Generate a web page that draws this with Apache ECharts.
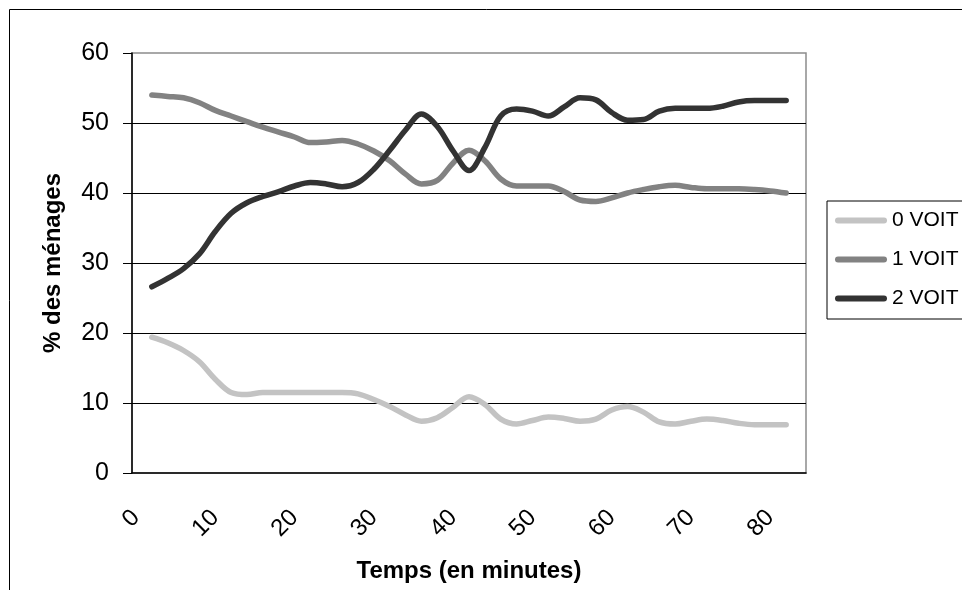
<!DOCTYPE html>
<html>
<head>
<meta charset="utf-8">
<script src="https://cdn.jsdelivr.net/npm/echarts@6/dist/echarts.min.js"></script>
<style>
  html, body { margin: 0; padding: 0; background: #fff; }
  #chart { width: 962px; height: 590px; }
</style>
</head>
<body>
<div id="chart"></div>
<script>
// Temps (minutes)
const minutes = [2,4,6,8,10,12,14,16,18,20,22,24,26,28,30,32,34,36,38,40,42,44,46,48,50,52,54,56,58,60,62,64,66,68,70,72,74,76,78,80,82];
// % des ménages par motorisation
const voit0 = [19.4,18.6,17.5,15.9,13.4,11.5,11.2,11.5,11.5,11.5,11.5,11.5,11.5,11.3,10.5,9.5,8.3,7.4,7.9,9.4,10.9,9.8,7.7,7.0,7.5,8.0,7.8,7.4,7.7,9.0,9.5,8.7,7.3,7.0,7.4,7.7,7.5,7.1,6.9,6.9,6.9];
const voit1 = [54.0,53.8,53.6,52.9,51.8,51.0,50.2,49.4,48.7,48.0,47.2,47.3,47.5,47.0,46.0,44.6,42.7,41.3,41.8,44.3,46.1,44.6,42.0,41.0,41.0,41.0,40.2,39.0,38.8,39.3,40.0,40.5,40.9,41.1,40.8,40.6,40.6,40.6,40.5,40.3,40.0];
const voit2 = [26.6,27.8,29.2,31.3,34.5,37.1,38.6,39.5,40.2,41.0,41.5,41.3,40.9,41.5,43.4,46.1,49.0,51.3,49.5,46.0,43.2,46.5,51.0,52.0,51.7,51.0,52.3,53.6,53.3,51.5,50.4,50.5,51.7,52.1,52.1,52.1,52.4,53.0,53.2,53.2,53.2];
const seriesNames = ['0 VOIT', '1 VOIT', '2 VOIT'];
const xTickLabels = [0,10,20,30,40,50,60,70,80];

const FONT = '"Liberation Sans", Arial, sans-serif';
const LEGEND_ICON = 'path://M3,0 L49,0 A3,3 0 0 1 49,6 L3,6 A3,3 0 0 1 3,0 Z';
const toPairs = vals => minutes.map((m, i) => [m, vals[i]]);

const chart = echarts.init(document.getElementById('chart'), null, { renderer: 'canvas' });
const mkSeries = (name, vals, color) => ({
  name, type: 'line', data: toPairs(vals),
  smooth: 0.35, symbol: 'none', showSymbol: false,
  lineStyle: { color, width: 5.5, cap: 'round', join: 'round' },
  itemStyle: { color },
  emphasis: { disabled: true },
  animation: false
});

chart.setOption({
  animation: false,
  backgroundColor: '#fff',
  graphic: [{
    type: 'rect', silent: true, z: -10,
    shape: { x: 9.5, y: 9.5, width: 1100, height: 1100 },
    style: { fill: 'none', stroke: '#000', lineWidth: 1 }
  }],
  grid: {
    left: 132, top: 53, width: 674, height: 420,
    show: true, borderColor: '#8c8c8c', borderWidth: 1.5, backgroundColor: 'transparent'
  },
  legend: {
    orient: 'vertical', left: 827, top: 201,
    padding: [9, 30, 10, 8],
    itemWidth: 52, itemHeight: 24, itemGap: 18,
    borderColor: '#000', borderWidth: 1,
    icon: LEGEND_ICON,
    textStyle: { fontFamily: FONT, fontSize: 21, color: '#000' },
    data: seriesNames
  },
  xAxis: {
    type: 'value', min: -0.5, max: 84.5,
    name: 'Temps (en minutes)', nameLocation: 'middle', nameGap: 86,
    nameTextStyle: { fontFamily: FONT, fontSize: 24, fontWeight: 'bold', color: '#000' },
    axisLine: { show: true, onZero: false, lineStyle: { color: '#000', width: 1.5 } },
    axisTick: { show: false },
    splitLine: { show: false },
    axisLabel: {
      customValues: xTickLabels, rotate: 45, margin: 41,
      fontFamily: FONT, fontSize: 24, color: '#000'
    }
  },
  yAxis: {
    type: 'value', min: 0, max: 60, interval: 10,
    name: '% des ménages', nameLocation: 'middle', nameGap: 67, nameRotate: 90,
    nameTextStyle: { fontFamily: FONT, fontSize: 24, fontWeight: 'bold', color: '#000' },
    axisLine: { show: true, onZero: false, lineStyle: { color: '#000', width: 1.5 } },
    axisTick: { show: true, length: 9, lineStyle: { color: '#000', width: 1 } },
    splitLine: { show: true, showMaxLine: false, showMinLine: false, lineStyle: { color: '#000', width: 1 } },
    axisLabel: { margin: 23, fontFamily: FONT, fontSize: 25, color: '#000' }
  },
  series: [
    mkSeries(seriesNames[0], voit0, '#c3c3c3'),
    mkSeries(seriesNames[1], voit1, '#828282'),
    mkSeries(seriesNames[2], voit2, '#333333')
  ]
});
</script>
</body>
</html>
